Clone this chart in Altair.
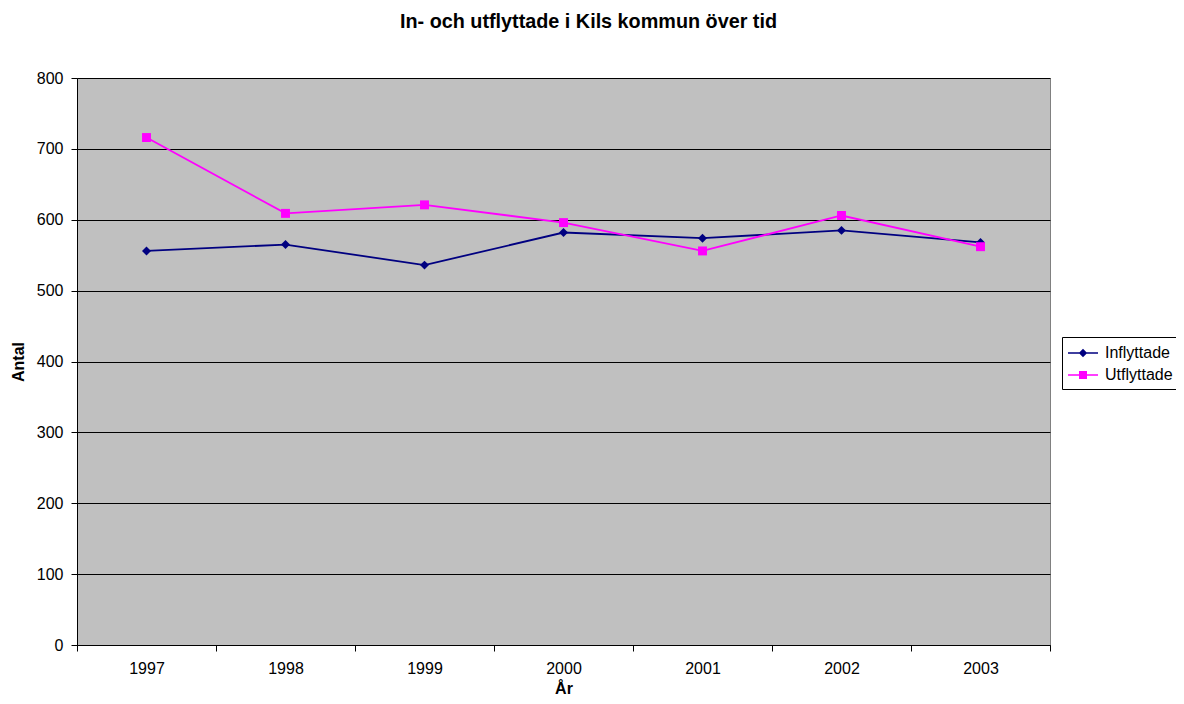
import altair as alt
import pandas as pd

years = ["1997", "1998", "1999", "2000", "2001", "2002", "2003"]
inflyttade = [556, 565, 536, 582, 574, 585, 568]
utflyttade = [716, 609, 621, 596, 556, 606, 562]
series = ["Inflyttade", "Utflyttade"]
colors = ["#000080", "#FF00FF"]

rows = []
for y, a, b in zip(years, inflyttade, utflyttade):
    rows.append({"År": y, "Serie": series[0], "Antal": a})
    rows.append({"År": y, "Serie": series[1], "Antal": b})
df = pd.DataFrame(rows)

FONT = "Liberation Sans"

x_enc = alt.X(
    "År:O",
    bandPosition=0.5,
    scale=alt.Scale(type="band", paddingInner=0, paddingOuter=0),
    axis=alt.Axis(
        title="År", labelAngle=0, tickBand="extent", grid=False,
        domainColor="#000000", tickColor="#000000", tickSize=6,
        labelFontSize=16, labelPadding=9, titleFontSize=16, titleFontWeight="bold",
        titlePadding=4, labelColor="#000000", titleColor="#000000",
        labelFont=FONT, titleFont=FONT,
    ),
)
y_enc = alt.Y(
    "Antal:Q",
    scale=alt.Scale(domain=[0, 800], nice=False),
    axis=alt.Axis(
        title="Antal", values=list(range(0, 801, 100)), grid=True, gridColor="#000000",
        gridOpacity=1, gridWidth=1, domainColor="#000000", tickColor="#000000",
        tickSize=6, labelFontSize=16, labelPadding=8, titleFontSize=16,
        titleFontWeight="bold", titlePadding=10, labelColor="#000000",
        titleColor="#000000", labelFont=FONT, titleFont=FONT,
    ),
)

color_scale = alt.Scale(domain=series, range=colors)

# legend symbols: a short line with the marker on it (filled shapes only)
diamond_leg = "M-1.5,-0.075L1.5,-0.075L1.5,0.075L-1.5,0.075ZM0,-0.42L0.42,0L0,0.42L-0.42,0Z"
square_leg = "M-1.5,-0.075L1.5,-0.075L1.5,0.075L-1.5,0.075ZM-0.4,-0.4L0.4,-0.4L0.4,0.4L-0.4,0.4Z"

legend_kw = dict(
    title=None, orient="none", legendX=985, legendY=259,
    strokeColor="#000000", fillColor="#FFFFFF", padding=6,
    labelFontSize=16, labelFont=FONT, labelColor="#000000",
    symbolSize=400, symbolOpacity=1, rowPadding=4, labelOffset=12,
    symbolOffset=5, symbolStrokeWidth=0,
)

base = alt.Chart(df)

lines = base.mark_line(strokeWidth=1.8).encode(
    x=x_enc,
    y=y_enc,
    color=alt.Color("Serie:N", scale=color_scale, legend=alt.Legend(**legend_kw)),
    detail="Serie:N",
)

legend_layer = base.mark_point(filled=True, opacity=0).encode(
    x=x_enc,
    y=y_enc,
    color=alt.Color("Serie:N", scale=color_scale, legend=alt.Legend(**legend_kw)),
    shape=alt.Shape("Serie:N", scale=alt.Scale(domain=series, range=[diamond_leg, square_leg]),
                    legend=alt.Legend(**legend_kw)),
)

pts_in = base.transform_filter(alt.datum.Serie == series[0]).mark_point(
    filled=True, opacity=1, size=80, shape="diamond", color=colors[0]
).encode(x=x_enc, y=y_enc)

pts_out = base.transform_filter(alt.datum.Serie == series[1]).mark_point(
    filled=True, opacity=1, size=80, shape="square", color=colors[1]
).encode(x=x_enc, y=y_enc)

chart = (
    alt.layer(lines, pts_in, pts_out, legend_layer)
    .properties(
        width=973,
        height=567,
        autosize=alt.AutoSizeParams(type="none"),
        padding={"left": 69, "top": 70, "right": 126, "bottom": 51},
        background="#FFFFFF",
        title=alt.TitleParams(
            "In- och utflyttade i Kils kommun över tid",
            fontSize=19.8, fontWeight="bold", font=FONT, color="#000000",
            anchor="middle", dx=25, offset=38,
        ),
    )
    .configure_view(fill="#C0C0C0", stroke="#808080", strokeWidth=1)
)

chart.save("out.html", embed_options={"renderer": "svg", "actions": False})
